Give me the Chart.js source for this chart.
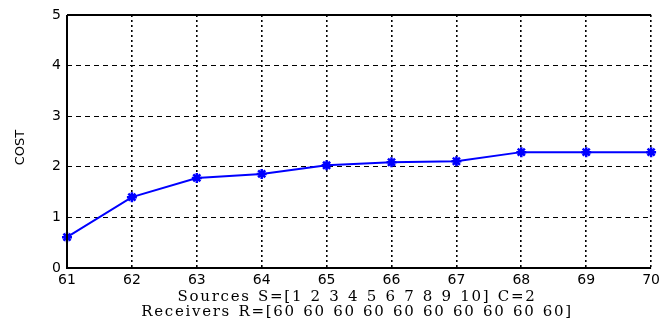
<!DOCTYPE html>
<html><head><meta charset="utf-8">
<script src="https://cdn.jsdelivr.net/npm/chart.js@4/dist/chart.umd.min.js"></script>
<style>html,body{margin:0;padding:0;background:#fff}#wrap{width:664px;height:327px}</style>
</head><body><div id="wrap"><canvas id="c" width="664" height="327"></canvas></div>
<script>
const categories = [61, 62, 63, 64, 65, 66, 67, 68, 69, 70];
const costValues = [0.61, 1.40, 1.78, 1.86, 2.03, 2.09, 2.11, 2.29, 2.29, 2.29];
const yTicks = [0, 1, 2, 3, 4, 5];
const xTitle = ["Sources S=[1 2 3 4 5 6 7 8 9 10] C=2", "Receivers R=[60 60 60 60 60 60 60 60 60 60]"];
const yTitle = "COST";

const decorPlugin = {
  id: 'decor',
  beforeDraw(chart) {
    chart.ctx.letterSpacing = '0px';
    chart.ctx.wordSpacing = '0px';
  },
  afterDraw(chart) {
    const {ctx, chartArea: a} = chart;
    ctx.save();
    ctx.strokeStyle = '#000';
    ctx.lineWidth = 2;
    ctx.beginPath();
    ctx.moveTo(a.left, a.top); ctx.lineTo(a.right, a.top);
    ctx.moveTo(a.left, a.top); ctx.lineTo(a.left, a.bottom); ctx.lineTo(a.right, a.bottom);
    ctx.stroke();
    ctx.fillStyle = '#000';
    ctx.textAlign = 'center';
    ctx.textBaseline = 'middle';
    ctx.font = '15px "DejaVu Serif"';
    ctx.letterSpacing = '1.7px';
    ctx.wordSpacing = '1px';
    const cx = (a.left + a.right) / 2 - 2;
    ctx.fillText(xTitle[0], cx, a.bottom + 29);
    ctx.fillText(xTitle[1], cx, a.bottom + 44);
    ctx.letterSpacing = '0px';
    ctx.wordSpacing = '0px';
    ctx.font = '13px "DejaVu Sans"';
    ctx.translate(21, a.top + (a.bottom - a.top) / 2 + 6);
    ctx.rotate(-Math.PI / 2);
    ctx.fillText(yTitle, 0, 0);
    ctx.restore();
    ctx.letterSpacing = '0px';
    ctx.wordSpacing = '0px';
  }
};

new Chart(document.getElementById('c'), {
  type: 'line',
  data: {
    datasets: [{
      data: categories.map((x, i) => ({x: x, y: costValues[i]})),
      borderColor: '#0000ff',
      backgroundColor: '#0000ff',
      borderWidth: 2,
      pointStyle: 'star',
      pointRadius: 5,
      pointBorderWidth: 2.5,
      tension: 0,
      clip: false
    }]
  },
  options: {
    responsive: false,
    animation: false,
    devicePixelRatio: 1,
    layout: {padding: {left: 0, right: 11, top: 15, bottom: 0}},
    plugins: {legend: {display: false}, tooltip: {enabled: false}},
    scales: {
      x: {
        type: 'linear', min: 61, max: 70,
        afterBuildTicks: s => { s.ticks = categories.map(v => ({value: v})); },
        afterFit: s => { s.height = 59; },
        grid: {color: '#000', lineWidth: 1.6, drawTicks: false},
        border: {display: false, dash: [2, 3]},
        ticks: {color: '#000', font: {family: 'DejaVu Sans', size: 14}, padding: 4, maxRotation: 0, autoSkip: false},
        title: {display: false}
      },
      y: {
        min: 0, max: 5,
        afterBuildTicks: s => { s.ticks = yTicks.map(v => ({value: v})); },
        afterFit: s => { s.width = 67; },
        grid: {color: '#000', lineWidth: 1, drawTicks: false},
        border: {display: false, dash: [5, 4]},
        ticks: {color: '#000', font: {family: 'DejaVu Sans', size: 14}, padding: 6},
        title: {display: false}
      }
    }
  },
  plugins: [decorPlugin]
});
</script>
</body></html>
